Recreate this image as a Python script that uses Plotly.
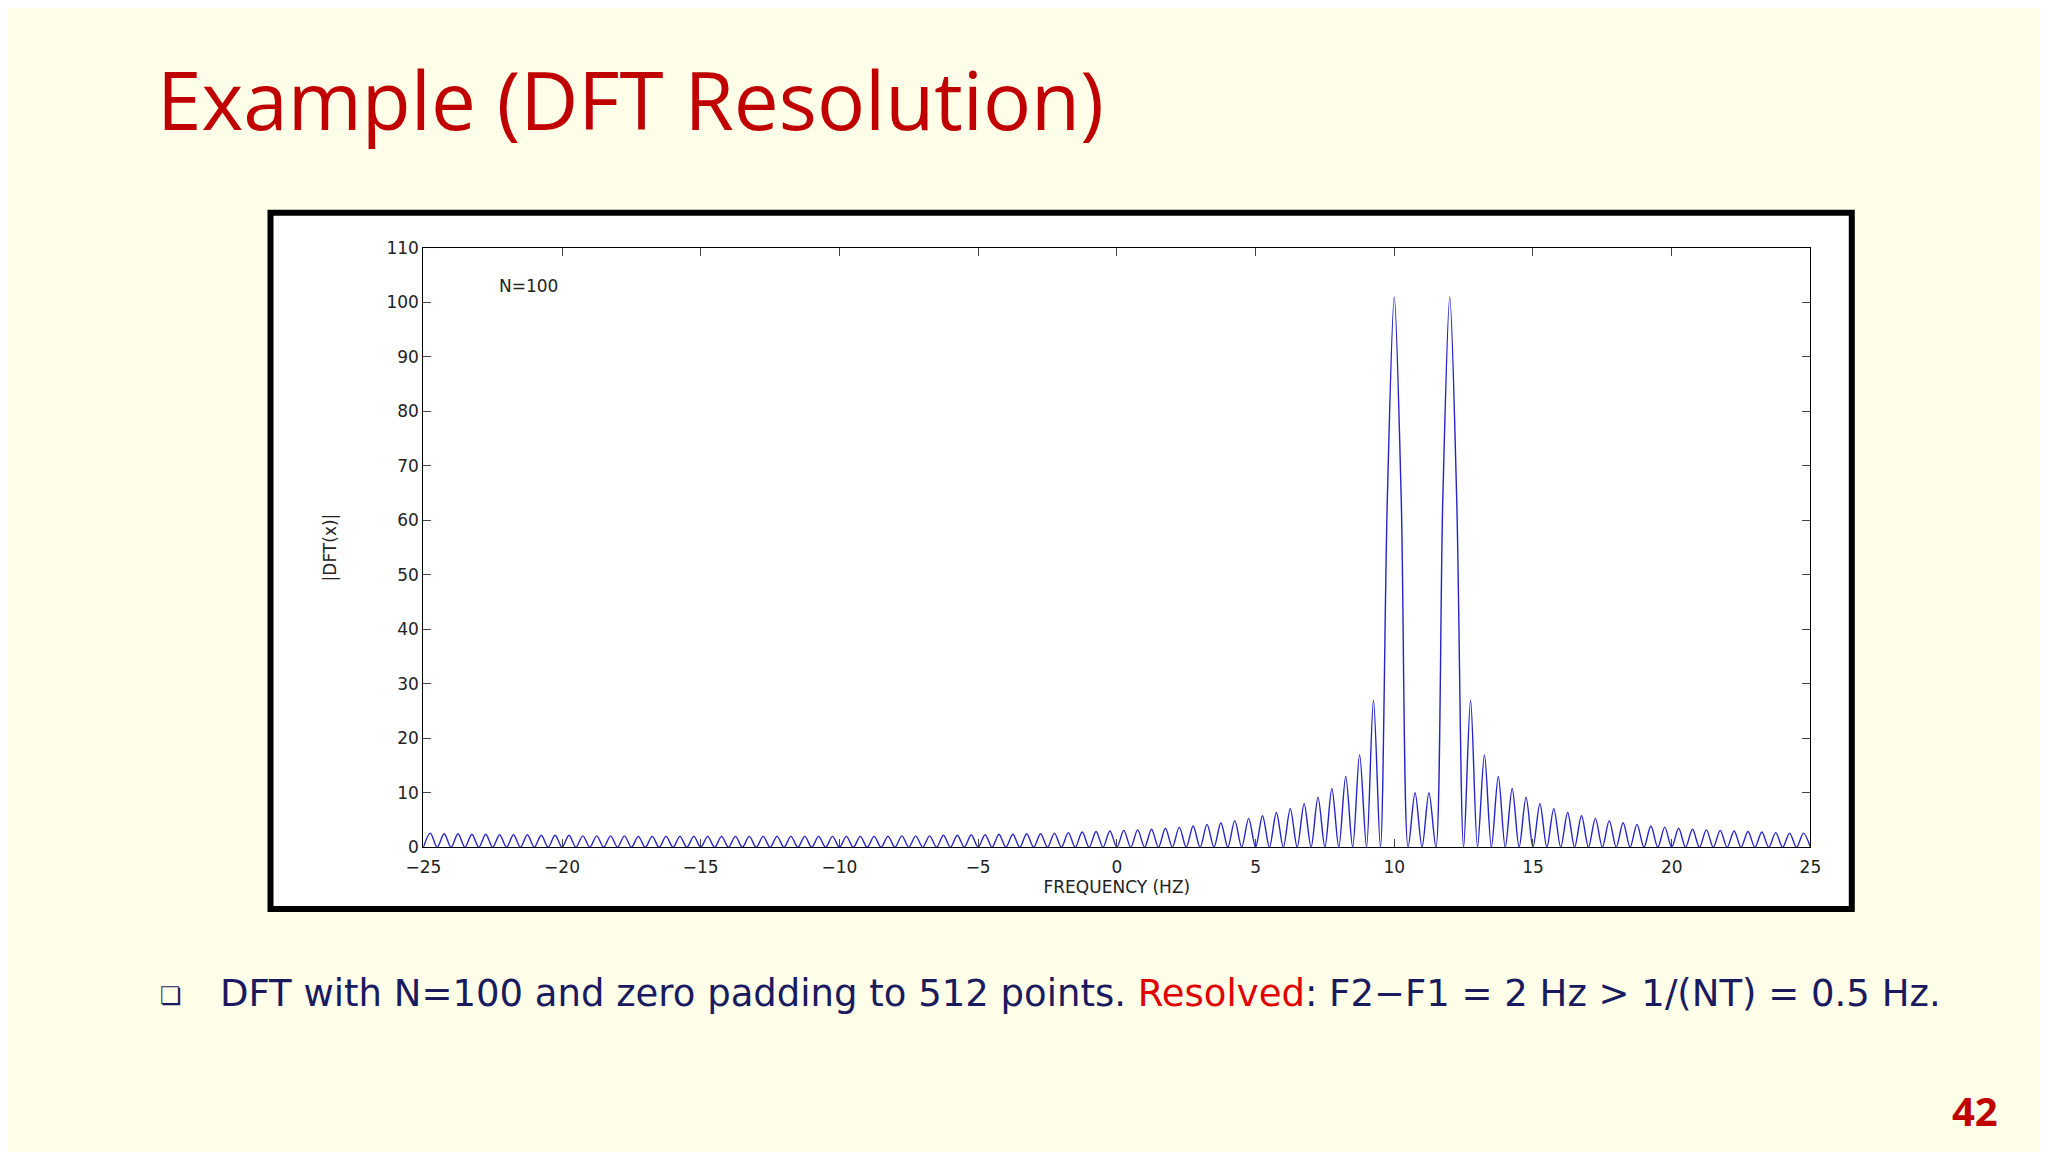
import plotly.graph_objects as go

# sidelobe peak heights, one per 0.5 Hz lobe (centres at -24.75 ... 24.75)
lobe_centres = [-24.75 + 0.5 * i for i in range(100)]
lobe_heights = [
 2.6, 2.5, 2.5, 2.4, 2.4, 2.3, 2.3, 2.3, 2.2, 2.2,   # -24.75 .. -20.25
 2.2, 2.1, 2.1, 2.1, 2.1, 2.0, 2.0, 2.0, 2.0, 2.0,   # -19.75 .. -15.25
 2.0, 2.0, 2.0, 2.0, 2.0, 2.0, 2.0, 2.0, 2.0, 2.0,   # -14.75 .. -10.25
 2.0, 2.0, 2.0, 2.0, 2.1, 2.1, 2.1, 2.2, 2.2, 2.3,   # -9.75 .. -5.25
 2.3, 2.4, 2.4, 2.5, 2.5, 2.6, 2.7, 2.8, 2.9, 3.0,   # -4.75 .. -0.25
 3.1, 3.2, 3.3, 3.5, 3.7, 3.9, 4.2, 4.5, 4.9, 5.3,   # 0.25 .. 4.75
 5.8, 6.4, 7.1, 8.0, 9.2, 10.8, 13.0, 17.0, 27.0, None,  # 5.25 .. 9.75
 None, 10.0, 10.0, None, None, 27.0, 17.0, 13.0, 10.8, 9.2,  # 10.25 .. 14.75
 8.0, 7.1, 6.4, 5.8, 5.3, 4.9, 4.5, 4.2, 3.9, 3.7,   # 15.25 .. 19.75
 3.5, 3.3, 3.2, 3.1, 3.0, 2.9, 2.8, 2.7, 2.6, 2.6,   # 20.25 .. 24.75
]
# main lobes: frequency and magnitude
main_freq = [9.5, 9.75, 10.0, 10.25, 10.5, 11.5, 11.75, 12.0, 12.25, 12.5]
main_mag = [0.0, 64.0, 101.0, 64.0, 0.0, 0.0, 64.0, 101.0, 64.0, 0.0]

pts = {}
for c, h in zip(lobe_centres, lobe_heights):
    if h is not None:
        pts[c] = h
        pts[round(c - 0.25, 2)] = 0.0
        pts[round(c + 0.25, 2)] = 0.0
for f, m in zip(main_freq, main_mag):
    pts[f] = m
freq = sorted(pts)
mag = [pts[f] for f in freq]

x_ticks = [-25, -20, -15, -10, -5, 0, 5, 10, 15, 20, 25]
y_ticks = list(range(0, 111, 10))

fig = go.Figure()
fig.add_trace(go.Scatter(x=freq, y=mag, mode="lines", line=dict(color="#2424c8", width=1.4, shape="spline", smoothing=0.9),
                         showlegend=False, hoverinfo="skip"))

axfont = dict(family="DejaVu Sans", size=17, color="#222")
fig.update_layout(
    width=2048, height=1152, margin=dict(l=0, r=0, t=0, b=0),
    paper_bgcolor="#FEFEE9", plot_bgcolor="white",
    xaxis=dict(domain=[0.1968, 0.8838], range=[-25, 25], tickvals=x_ticks,
               ticktext=[str(t).replace("-", "\u2212") for t in x_ticks],
               ticks="inside", ticklen=8, mirror="allticks", showline=True, linecolor="black", linewidth=1,
               showgrid=False, zeroline=False, tickfont=axfont, ticklabelstandoff=4,
               title=dict(text="FREQUENCY (HZ)", font=axfont, standoff=0)),
    yaxis=dict(domain=[0.2674, 0.797], range=[0, 110], tickvals=y_ticks,
               ticks="inside", ticklen=8, mirror="allticks", showline=True, linecolor="black", linewidth=1,
               showgrid=False, zeroline=False, tickfont=axfont,
               title=dict(text="|DFT(x)|", font=axfont, standoff=45)),
    shapes=[dict(type="rect", xref="paper", yref="paper", x0=0.1211, x1=0.9043, y0=0.213, y1=0.828,
                 line=dict(color="black", width=6), fillcolor="white", layer="below")],
    annotations=[
        dict(text="N=100", x=-21.2, y=103, xref="x", yref="y", showarrow=False, font=axfont),
        dict(text="Example (DFT Resolution)", x=131/2048, y=1-82/1152, xref="paper", yref="paper",
             xanchor="left", yanchor="middle", showarrow=False,
             font=dict(family="Open Sans", size=80, color="#C00000")),
        dict(text="\u274f", x=134/2048, y=1-995/1152, xref="paper", yref="paper", xanchor="left", yanchor="middle",
             showarrow=False, font=dict(family="DejaVu Sans", size=24, color="#1a1a5e")),
        dict(text="DFT with N=100 and zero padding to 512 points. <span style='color:#E00000'>Resolved</span>: F2\u2212F1 = 2 Hz > 1/(NT) = 0.5 Hz.",
             x=195/2048, y=1-993/1152, xref="paper", yref="paper", xanchor="left", yanchor="middle",
             showarrow=False, font=dict(family="DejaVu Sans", size=37, color="#1a1a5e")),
        dict(text="<b>42</b>", x=2002/2048, y=1-1112/1152, xref="paper", yref="paper", xanchor="right", yanchor="middle",
             showarrow=False, font=dict(family="Open Sans", size=40, color="#C00000")),
    ],
)
fig.write_html("out.html")
